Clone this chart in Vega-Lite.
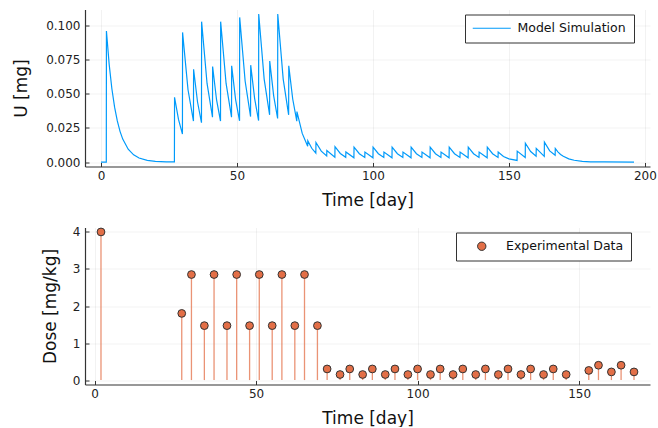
{
  "$schema": "https://vega.github.io/schema/vega-lite/v6.json",
  "padding": {"left": 12, "top": 9.5, "right": 4, "bottom": 0},
  "background": "white",
  "config": {
    "font": "DejaVu Sans",
    "view": {"stroke": null},
    "axis": {
      "domainColor": "#333333",
      "domainWidth": 1.2,
      "tickColor": "#333333",
      "tickSize": -4,
      "tickWidth": 1,
      "grid": true,
      "gridColor": "#000000",
      "gridOpacity": 0.1,
      "gridWidth": 0.5,
      "labelFont": "DejaVu Sans",
      "labelFontSize": 12,
      "labelColor": "#222222",
      "labelFlush": false,
      "labelOverlap": false,
      "titleFont": "DejaVu Sans",
      "titleFontSize": 17,
      "titleFontWeight": "normal",
      "titleColor": "#111111"
    },
    "axisX": {"labelPadding": 8, "titlePadding": 11},
    "axisY": {"labelPadding": 9},
    "legend": {
      "labelFont": "DejaVu Sans",
      "labelFontSize": 12.5,
      "labelColor": "#111111",
      "strokeColor": "#333333",
      "fillColor": "white",
      "padding": 7.5,
      "orient": "none"
    }
  },
  "resolve": {"scale": {"x": "independent", "y": "independent", "color": "independent"}, "legend": {"color": "independent"}, "axis": {"x": "independent", "y": "independent"}},
  "datasets": {
    "sim": [
      {"t":0,"u":0},{"t":1.95,"u":0},{"t":2.0,"u":0.096},{"t":3,"u":0.0718},{"t":4,"u":0.0537},{"t":5,"u":0.0402},{"t":6,"u":0.0301},{"t":7,"u":0.0225},{"t":8,"u":0.0168},{"t":10,"u":0.0094},{"t":12,"u":0.0053},{"t":14,"u":0.003},{"t":17,"u":0.0012},{"t":20,"u":0.0005},{"t":24,"u":0.0002},{"t":27,"u":0.0001},
      {"t":27.05,"u":0.0475},{"t":28.5,"u":0.0312},{"t":29.95,"u":0.0205},{"t":30.0,"u":0.095},{"t":32,"u":0.053},{"t":34.0,"u":0.0300},{"t":34.05,"u":0.068},{"t":35.5,"u":0.044},{"t":36.95,"u":0.0288},{"t":37.0,"u":0.1029},{"t":39,"u":0.0576},{"t":41.0,"u":0.0329},{"t":41.05,"u":0.070},{"t":42.5,"u":0.0455},{"t":43.95,"u":0.0300},{"t":44.0,"u":0.1029},{"t":46,"u":0.0576},{"t":48.0,"u":0.0329},{"t":48.05,"u":0.0705},{"t":49.5,"u":0.0458},{"t":50.95,"u":0.0302},{"t":51.0,"u":0.106},{"t":53,"u":0.0594},{"t":55.0,"u":0.0333},{"t":55.05,"u":0.071},{"t":56.5,"u":0.0465},{"t":57.95,"u":0.0304},{"t":58.0,"u":0.1085},{"t":60,"u":0.0608},{"t":62.0,"u":0.0346},{"t":62.05,"u":0.074},{"t":63.5,"u":0.0485},{"t":64.95,"u":0.032},{"t":65.0,"u":0.1085},{"t":67,"u":0.0608},{"t":69.0,"u":0.0346},{"t":69.05,"u":0.0705},{"t":70.5,"u":0.0462},{"t":72.0,"u":0.0300},{"t":72.05,"u":0.037},{"t":74,"u":0.0210},{"t":76.0,"u":0.0116},{"t":76.05,"u":0.0155},{"t":77.5,"u":0.0101},{"t":79.0,"u":0.0065},{"t":79.05,"u":0.0143},{"t":81,"u":0.008},{"t":83.0,"u":0.0045},{"t":83.05,"u":0.0084},{"t":86.0,"u":0.0035},{"t":86.05,"u":0.0113},{"t":88,"u":0.0063},{"t":90.0,"u":0.0035},{"t":90.05,"u":0.0074},{"t":93.0,"u":0.0031},{"t":93.05,"u":0.0109},{"t":95,"u":0.0061},{"t":97.0,"u":0.0034},{"t":97.05,"u":0.0073},{"t":100.0,"u":0.0031},{"t":100.05,"u":0.0109},{"t":102,"u":0.0061},{"t":104,"u":0.0034},{"t":104.05,"u":0.0073},{"t":107,"u":0.0031},{"t":107.05,"u":0.0109},{"t":109,"u":0.0061},{"t":111,"u":0.0034},{"t":111.05,"u":0.0073},{"t":114,"u":0.0031},{"t":114.05,"u":0.0109},{"t":116,"u":0.0061},{"t":118,"u":0.0034},{"t":118.05,"u":0.0073},{"t":121,"u":0.0031},{"t":121.05,"u":0.0109},{"t":123,"u":0.0061},{"t":125,"u":0.0034},{"t":125.05,"u":0.0073},{"t":128,"u":0.0031},{"t":128.05,"u":0.0109},{"t":130,"u":0.0061},{"t":132,"u":0.0034},{"t":132.05,"u":0.0073},{"t":135,"u":0.0031},{"t":135.05,"u":0.0109},{"t":137,"u":0.0061},{"t":139,"u":0.0034},{"t":139.05,"u":0.0073},{"t":142,"u":0.0031},{"t":142.05,"u":0.0109},{"t":144,"u":0.0061},{"t":146,"u":0.0034},{"t":146.05,"u":0.0073},{"t":148,"u":0.0041},{"t":150,"u":0.0023},{"t":153,"u":0.0012},{"t":153.05,"u":0.008},{"t":156,"u":0.0034},{"t":156.05,"u":0.0138},{"t":158,"u":0.0077},{"t":160,"u":0.0043},{"t":160.05,"u":0.0100},{"t":163,"u":0.0042},{"t":163.05,"u":0.0146},{"t":165,"u":0.0082},{"t":167,"u":0.0050},{"t":167.05,"u":0.0100},{"t":168,"u":0.0075},{"t":169,"u":0.0056},{"t":170,"u":0.0042},{"t":172,"u":0.0023},{"t":174,"u":0.0013},{"t":177,"u":0.0005},{"t":180,"u":0.0002},{"t":185,"u":0.0001},{"t":196,"u":0}
    ],
    "dose": [
      {"t":2,"d":4},{"t":27,"d":1.8},{"t":30,"d":2.85},{"t":34,"d":1.47},{"t":37,"d":2.85},{"t":41,"d":1.47},{"t":44,"d":2.85},{"t":48,"d":1.47},{"t":51,"d":2.85},{"t":55,"d":1.47},{"t":58,"d":2.85},{"t":62,"d":1.47},{"t":65,"d":2.85},{"t":69,"d":1.47},
      {"t":72,"d":0.3},{"t":76,"d":0.15},{"t":79,"d":0.3},{"t":83,"d":0.15},{"t":86,"d":0.3},{"t":90,"d":0.15},{"t":93,"d":0.3},{"t":97,"d":0.15},{"t":100,"d":0.3},{"t":104,"d":0.15},{"t":107,"d":0.3},{"t":111,"d":0.15},{"t":114,"d":0.3},{"t":118,"d":0.15},{"t":121,"d":0.3},{"t":125,"d":0.15},{"t":128,"d":0.3},{"t":132,"d":0.15},{"t":135,"d":0.3},{"t":139,"d":0.15},{"t":142,"d":0.3},{"t":146,"d":0.15},
      {"t":153,"d":0.26},{"t":156,"d":0.4},{"t":160,"d":0.22},{"t":163,"d":0.4},{"t":167,"d":0.22}
    ]
  },
  "vconcat": [
    {
      "width": 565,
      "height": 157,
      "data": {"name": "sim"},
      "mark": {"type": "line", "strokeWidth": 1.2, "clip": true},
      "encoding": {
        "x": {"field": "t", "type": "quantitative", "scale": {"domain": [-5.88, 201.88], "nice": false, "zero": false}, "axis": {"values": [0, 50, 100, 150, 200], "title": "Time [day]"}},
        "y": {"field": "u", "type": "quantitative", "scale": {"domain": [-0.00326, 0.1118], "nice": false, "zero": false}, "axis": {"values": [0, 0.025, 0.05, 0.075, 0.1], "format": ".3f", "title": "U [mg]", "titlePadding": 15}},
        "color": {"datum": "Model Simulation", "type": "nominal", "scale": {"domain": ["Model Simulation"], "range": ["#009AFA"]}, "legend": {"title": null, "legendX": 380, "legendY": 5, "symbolType": "M-3.8,0H3.8", "symbolSize": 100, "symbolStrokeWidth": 1.2, "symbolOffset": 13, "labelOffset": 19.5}}
      }
    },
    {
      "width": 565,
      "height": 157,
      "data": {"name": "dose"},
      "encoding": {
        "x": {"field": "t", "type": "quantitative", "scale": {"domain": [-2.95, 171.95], "nice": false, "zero": false}, "axis": {"values": [0, 50, 100, 150], "title": "Time [day]", "titlePadding": 11}},
        "y": {"field": "d", "type": "quantitative", "scale": {"domain": [-0.12, 4.12], "nice": false, "zero": false}, "axis": {"values": [0, 1, 2, 3, 4], "title": "Dose [mg/kg]", "titlePadding": 13}}
      },
      "layer": [
        {
          "mark": {"type": "rule", "color": "#E36F47", "opacity": 0.75, "strokeWidth": 1.3},
          "encoding": {
            "y2": {"datum": 0}
          }
        },
        {
          "mark": {"type": "point", "shape": "circle", "filled": true, "size": 60, "stroke": "#333333", "strokeWidth": 1, "opacity": 1},
          "encoding": {
            "color": {"datum": "Experimental Data", "type": "nominal", "scale": {"domain": ["Experimental Data"], "range": ["#E36F47"]}, "legend": {"title": null, "legendX": 371, "legendY": 5, "symbolType": "circle", "symbolSize": 70, "symbolStrokeColor": "#333333", "symbolStrokeWidth": 1, "symbolOffset": 12, "labelOffset": 18}}
          }
        }
      ]
    }
  ],
  "spacing": 61,
  "bounds": "flush"
}
